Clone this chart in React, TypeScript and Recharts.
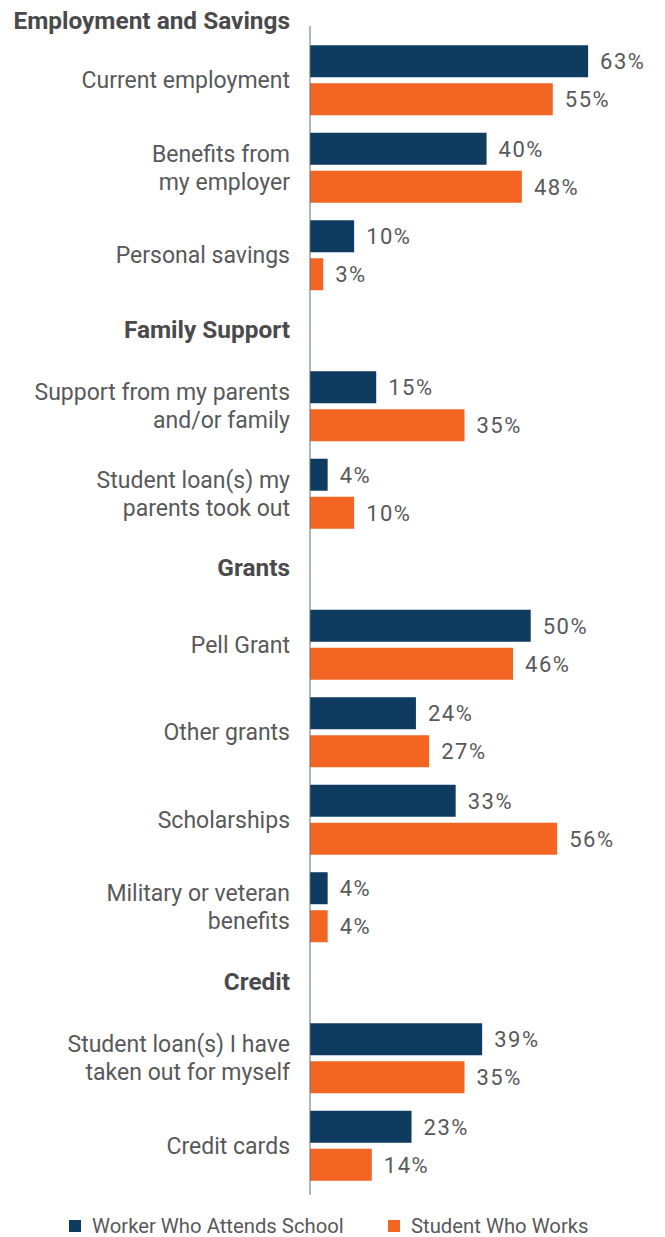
import React from 'react';
import { BarChart, Bar, XAxis, YAxis, LabelList, Legend } from 'recharts';

// ---- data ----
const sectionTitles = ['Employment and Savings', 'Family Support', 'Grants', 'Credit'];
const sectionSizes = [3, 2, 4, 2];
const categories = [
  'Current employment',
  'Benefits from\nmy employer',
  'Personal savings',
  'Support from my parents\nand/or family',
  'Student loan(s) my\nparents took out',
  'Pell Grant',
  'Other grants',
  'Scholarships',
  'Military or veteran\nbenefits',
  'Student loan(s) I have\ntaken out for myself',
  'Credit cards',
];
const workerWhoAttendsSchool = [63, 40, 10, 15, 4, 50, 24, 33, 4, 39, 23];
const studentWhoWorks = [55, 48, 3, 35, 10, 46, 27, 56, 4, 35, 14];
const seriesNames = ['Worker Who Attends School', 'Student Who Works'];

// ---- styles ----
const NAVY = '#0f3b61';
const ORANGE = '#f26522';
const TEXT = '#58595b';
const HEAD = '#4a4a4c';
const AXIS = '#5f6e7d';
const FONT = 'Roboto, sans-serif';
const colors = [NAVY, ORANGE];

// ---- build table ----
const SECTION_GAP = 0.726;
type Row = { label: string; pos: number; worker: number; student: number; header: string | null; first: boolean };
const rows: Row[] = [];
{
  let p = 0;
  let idx = 0;
  sectionSizes.forEach((n, s) => {
    if (s > 0) p += SECTION_GAP;
    for (let i = 0; i < n; i++) {
      rows.push({
        label: categories[idx],
        pos: p,
        worker: workerWhoAttendsSchool[idx],
        student: studentWhoWorks[idx],
        header: i === 0 ? sectionTitles[s] : null,
        first: s === 0,
      });
      p += 1;
      idx++;
    }
  });
}
const lastPos = rows[rows.length - 1].pos;
const yDomain: [number, number] = [-0.617, lastPos + 0.566];
const yTicks = rows.map((r) => r.pos);

const CategoryTick = (props: any) => {
  const { x, y, payload } = props;
  const row = rows.find((r) => Math.abs(r.pos - payload.value) < 1e-6);
  if (!row) return null;
  const lines = row.label.split('\n');
  const lh = 28;
  const startY = y - ((lines.length - 1) * lh) / 2;
  return (
    <g>
      {row.header && (
        <text
          x={x}
          y={y - (row.first ? 60 : 77)}
          dy="0.35em"
          textAnchor="end"
          fontWeight={700}
          fontSize={24.4}
          fill={HEAD}
          fontFamily={FONT}
        >
          {row.header}
        </text>
      )}
      <text x={x} y={startY} textAnchor="end" fontSize={23} fill={TEXT} fontFamily={FONT}>
        {lines.map((l, i) => (
          <tspan key={i} x={x} dy={i === 0 ? '0.35em' : lh}>
            {l}
          </tspan>
        ))}
      </text>
    </g>
  );
};

const LegendContent = () => (
  <div
    style={{
      display: 'flex',
      paddingLeft: 61,
      paddingTop: 21,
      height: 40,
      boxSizing: 'border-box',
      fontFamily: FONT,
      fontSize: 20.3,
      color: TEXT,
      lineHeight: '20px',
    }}
  >
    {seriesNames.map((n, i) => (
      <div key={n} style={{ display: 'flex', alignItems: 'center', width: i === 0 ? 319 : 'auto' }}>
        <span style={{ width: 12, height: 12, background: colors[i], marginRight: 11, display: 'inline-block' }} />
        <span>{n}</span>
      </div>
    ))}
  </div>
);

const pct = (v: any) => `${v}%`;

export default function App() {
  return (
    <div style={{ fontFamily: FONT, marginTop: -8 }}>
      <BarChart
        width={657}
        height={1235}
        data={rows}
        layout="vertical"
        margin={{ top: 26, right: 46, bottom: 0, left: 0 }}
        barGap={6}
        style={{ overflow: 'visible' }}
      >
        <XAxis type="number" domain={[0, 70]} hide />
        <YAxis
          type="number"
          dataKey="pos"
          domain={yDomain}
          ticks={yTicks}
          interval={0}
          width={302}
          tickLine={false}
          tickSize={0}
          tickMargin={20}
          axisLine={{ stroke: AXIS, strokeWidth: 1 }}
          tick={<CategoryTick />}
          allowDataOverflow
        />
        <Legend verticalAlign="bottom" content={<LegendContent />} />
        <Bar dataKey="worker" name={seriesNames[0]} fill={NAVY} barSize={32} isAnimationActive={false}>
          <LabelList dataKey="worker" position="right" offset={12} formatter={pct} fill={TEXT} fontSize={22} letterSpacing={1.5} fontFamily={FONT} />
        </Bar>
        <Bar dataKey="student" name={seriesNames[1]} fill={ORANGE} barSize={32} isAnimationActive={false}>
          <LabelList dataKey="student" position="right" offset={12} formatter={pct} fill={TEXT} fontSize={22} letterSpacing={1.5} fontFamily={FONT} />
        </Bar>
      </BarChart>
    </div>
  );
}
